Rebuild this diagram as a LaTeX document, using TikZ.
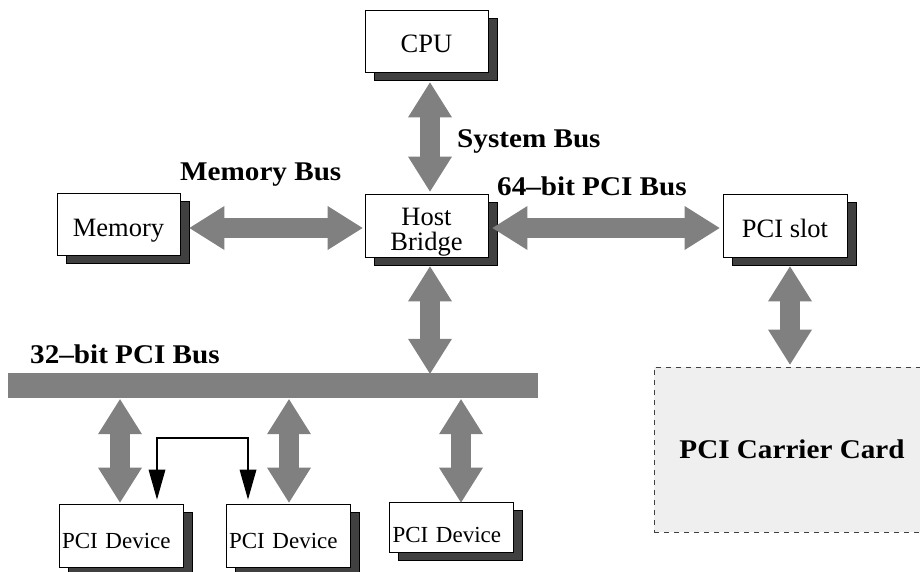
\documentclass[tikz,border=0pt]{standalone}
\usepackage{fontspec}
\setmainfont{Liberation Serif}
\newfontfamily\busfont[FakeStretch=1.08]{Liberation Serif}
\usetikzlibrary{arrows.meta,shadows,calc}

\definecolor{busgray}{HTML}{808080}
\definecolor{shadowgray}{HTML}{404040}
\definecolor{cardgray}{HTML}{EFEFEF}

\begin{document}
\begin{tikzpicture}[x=1pt,y=-1pt,
  unit/.style={draw=black, line width=0.8pt, fill=white,
    minimum width=123pt, minimum height=62pt, inner sep=0pt,
    font=\fontsize{26.5}{20.5}\selectfont, align=center,
    general shadow={fill=shadowgray, draw=black, line width=0.6pt,
      shadow xshift=9pt, shadow yshift=-8pt}},
  oneline/.style={text height=24pt, text depth=0pt},
  device/.style={unit, minimum width=124pt, minimum height=63pt,
    font=\fontsize{23}{23}\selectfont, text width=118pt, align=left,
    text height=25pt, text depth=0pt},
  busarrow/.style={line width=20pt, draw=busgray,
    {Triangle[width=44pt,length=35pt,line width=0pt]}-{Triangle[width=44pt,length=35pt,line width=0pt]}},
  linkarrow/.style={line width=2pt, draw=black,
    {Triangle[width=17pt,length=30pt,line width=0pt]}-{Triangle[width=17pt,length=30pt,line width=0pt]}},
  buslabel/.style={anchor=base west, inner sep=0pt,
    font=\busfont\bfseries\fontsize{27}{27}\selectfont},
  ]
\useasboundingbox (0,0) rectangle (920,572);

% carrier card (runs off the right edge)
\node[draw=black!75, fill=cardgray, dash pattern=on 5pt off 5pt, line width=0.8pt,
  minimum width=276pt, minimum height=165pt, inner sep=0pt,
  font=\busfont\bfseries\fontsize{27}{27}\selectfont] (card) at (792,449.5) {PCI Carrier Card};

% functional units
\node[unit, oneline] (cpu)  at (426.5,41)    {CPU};
\node[unit, oneline] (mem)  at (118.5,224)   {Memory};
\node[unit, minimum height=63pt, text height=0pt, text depth=0pt] (host) at (426.5,225.5)
  {\begin{tabular}[t]{@{}c@{}}Host\\Bridge\end{tabular}};
\node[unit, oneline, minimum width=124pt, minimum height=63pt] (slot) at (785,225.5) {PCI slot};
\node[device] (dev1) at (121,535.5) {PCI Device};
\node[device] (dev2) at (288,535.5) {PCI Device};
\node[device, minimum height=50pt, text height=30pt] (dev3) at (451.5,527) {PCI Device};

% 32-bit bus bar
\node[fill=busgray, minimum width=530pt, minimum height=25pt, inner sep=0pt] (bus) at (273,385.5) {};

% bus connections
\draw[busarrow] ($(cpu.south)+(3.5,10)$) -- ($(host.north)+(3.5,-2)$);
\draw[busarrow] ($(mem.east)+(9,4)$) -- ($(mem.east -| host.west)+(-2,4)$);
\draw[busarrow] ($(host.east)+(4,2.5)$) -- ($(slot.west)+(-3,2.5)$);
\draw[busarrow] ($(host.south)+(3.5,9)$) -- ($(host.south |- bus.north)+(3.5,1)$);
\draw[busarrow] ($(slot.south)+(5,9)$) -- ($(slot.south |- card.north)+(5,-2)$);
\draw[busarrow] ($(dev1.north |- bus.south)+(-1,1)$) -- ($(dev1.north)+(-1,-1)$);
\draw[busarrow] ($(dev2.north |- bus.south)+(1,1)$) -- ($(dev2.north)+(1,-1)$);
\draw[busarrow] ($(dev3.north |- bus.south)+(9.5,1)$) -- ($(dev3.north)+(9.5,1)$);

% direct device-to-device link
\draw[linkarrow] ($(dev1.north)+(36,-4)$) |- ($(dev2.north)+(-40,-66)$) -- ($(dev2.north)+(-40,-4)$);

% bus labels
\node[buslabel] (lsys) at (457,148) {System Bus};
\node[buslabel] (lmem) at (180,180) {Memory Bus};
\node[buslabel] (l64)  at (497,195) {64–bit PCI Bus};
\node[buslabel] (l32)  at (30,363)  {32–bit PCI Bus};
\end{tikzpicture}
\end{document}
